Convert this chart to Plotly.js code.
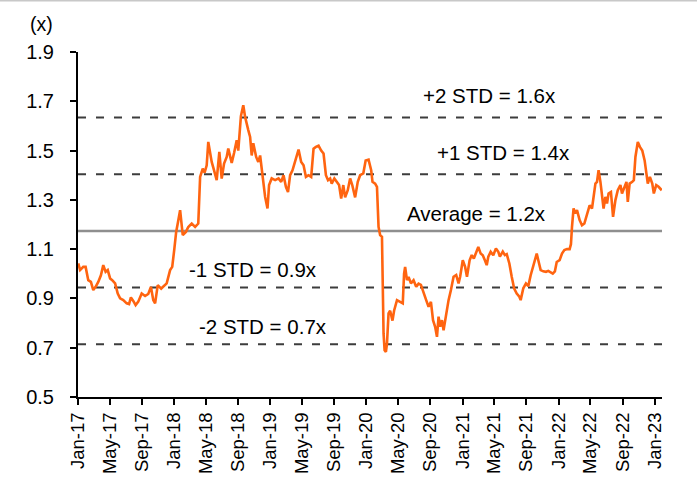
<!DOCTYPE html>
<html>
<head>
<meta charset="utf-8">
<script src="https://cdn.plot.ly/plotly-3.0.1.min.js"></script>
<style>
html,body{margin:0;padding:0;background:#fff;}
#chart{width:697px;height:481px;}
</style>
</head>
<body>
<div id="chart"></div>
<script>
// ---- data ----
const dates = [
"2017-01-02","2017-01-09","2017-01-21","2017-01-30","2017-02-09","2017-02-19","2017-02-28","2017-03-09","2017-03-19","2017-03-29",
"2017-04-07","2017-04-16","2017-04-24","2017-05-03","2017-05-11","2017-05-22","2017-06-01","2017-06-10","2017-06-22","2017-07-05",
"2017-07-14","2017-07-21","2017-07-30","2017-08-08","2017-08-18","2017-08-31","2017-09-13","2017-09-25","2017-10-05","2017-10-14",
"2017-10-21","2017-10-31","2017-11-13","2017-11-21","2017-12-04","2017-12-17","2017-12-25",
"2018-01-02","2018-01-09","2018-01-16","2018-01-24","2018-02-03","2018-02-15","2018-02-24","2018-03-09","2018-03-22","2018-04-03",
"2018-04-10","2018-04-20","2018-04-27","2018-05-05","2018-05-11","2018-05-18","2018-05-24","2018-06-02","2018-06-12","2018-06-22",
"2018-07-01","2018-07-10","2018-07-20","2018-07-26","2018-08-08","2018-08-17","2018-08-27","2018-09-02","2018-09-12","2018-09-21",
"2018-09-28","2018-10-10","2018-10-17","2018-10-23","2018-10-29","2018-11-09","2018-11-17","2018-11-24","2018-12-04","2018-12-13",
"2018-12-22","2018-12-28",
"2019-01-07","2019-01-20","2019-02-02","2019-02-12","2019-02-21","2019-03-02","2019-03-10","2019-03-18","2019-03-27","2019-04-06",
"2019-04-19","2019-04-29","2019-05-08","2019-05-17","2019-05-27","2019-06-06","2019-06-15","2019-06-24","2019-07-04","2019-07-14",
"2019-07-23","2019-08-01","2019-08-09","2019-08-17","2019-08-23","2019-09-02","2019-09-11","2019-09-20","2019-09-28","2019-10-06",
"2019-10-13","2019-10-23","2019-11-01","2019-11-09","2019-11-20","2019-11-30","2019-12-09","2019-12-21","2019-12-30",
"2020-01-10","2020-01-20","2020-01-25","2020-02-04","2020-02-11","2020-02-17","2020-02-23","2020-03-01","2020-03-03","2020-03-07",
"2020-03-11","2020-03-16","2020-03-20","2020-03-26","2020-04-01","2020-04-10","2020-04-16","2020-04-27","2020-05-09","2020-05-19",
"2020-05-24","2020-05-28","2020-06-04","2020-06-10","2020-06-19","2020-06-29","2020-07-09","2020-07-18","2020-07-27","2020-08-06",
"2020-08-16","2020-08-25","2020-09-03","2020-09-11","2020-09-19","2020-09-26","2020-10-02","2020-10-08","2020-10-15","2020-10-21",
"2020-10-31","2020-11-09","2020-11-18","2020-11-28","2020-12-08","2020-12-17","2020-12-23",
"2021-01-02","2021-01-11","2021-01-18","2021-01-28","2021-02-05","2021-02-13","2021-02-24","2021-03-02","2021-03-11","2021-03-19",
"2021-03-27","2021-04-03","2021-04-09","2021-04-18","2021-04-28","2021-05-08","2021-05-17","2021-05-23","2021-06-03","2021-06-11",
"2021-06-18","2021-06-28","2021-07-07","2021-07-16","2021-07-26","2021-08-05","2021-08-10","2021-08-20","2021-08-30","2021-09-08",
"2021-09-17","2021-09-27","2021-10-10","2021-10-16","2021-10-25","2021-11-04","2021-11-14","2021-11-23","2021-12-02","2021-12-10",
"2021-12-18","2021-12-25",
"2022-01-05","2022-01-14","2022-01-23","2022-02-02","2022-02-12","2022-02-17","2022-02-21","2022-02-27","2022-03-05","2022-03-12",
"2022-03-22","2022-03-31","2022-04-09","2022-04-19","2022-04-29","2022-05-08","2022-05-14","2022-05-21","2022-05-27","2022-06-02",
"2022-06-09","2022-06-15","2022-06-21","2022-06-28","2022-07-04","2022-07-10","2022-07-19","2022-07-27","2022-08-05","2022-08-14",
"2022-08-24","2022-08-30","2022-09-08","2022-09-16","2022-09-21","2022-09-28","2022-10-08","2022-10-14","2022-10-20","2022-10-29",
"2022-11-06","2022-11-15","2022-11-24","2022-12-01","2022-12-06","2022-12-14","2022-12-23","2022-12-29",
"2023-01-07","2023-01-16","2023-01-25","2023-01-28"
];
const multiples = [
1.042,1.015,1.028,1.028,0.974,0.967,0.934,0.947,0.967,0.994,
1.035,1.008,1.015,0.981,0.974,0.961,0.920,0.900,0.893,0.880,
0.877,0.904,0.890,0.873,0.887,0.920,0.910,0.918,0.947,0.893,
0.880,0.954,0.940,0.947,0.961,1.015,1.028,
1.100,1.170,1.210,1.258,1.157,1.170,1.190,1.204,1.190,1.204,
1.393,1.427,1.410,1.440,1.535,1.480,1.454,1.420,1.380,1.495,
1.386,1.447,1.474,1.508,1.450,1.490,1.542,1.500,1.640,1.684,
1.636,1.583,1.555,1.480,1.530,1.474,1.454,1.480,1.393,1.312,
1.265,1.360,
1.387,1.380,1.387,1.373,1.400,1.353,1.332,1.400,1.420,1.460,
1.504,1.454,1.440,1.393,1.400,1.393,1.508,1.515,1.520,1.500,
1.488,1.400,1.380,1.387,1.366,1.387,1.373,1.360,1.305,1.360,
1.310,1.339,1.387,1.360,1.310,1.373,1.400,1.407,1.460,
1.463,1.420,1.373,1.366,1.353,1.190,1.157,1.150,0.947,0.758,
0.690,0.683,0.717,0.839,0.850,0.810,0.850,0.893,0.886,0.880,
1.001,1.028,0.974,0.987,0.961,0.974,0.947,0.960,0.955,0.920,
0.893,0.866,0.886,0.812,0.785,0.744,0.826,0.785,0.812,0.771,
0.839,0.893,0.934,0.988,0.995,0.961,0.988,
1.055,1.028,0.988,1.055,1.076,1.062,1.089,1.109,1.082,1.075,
1.055,1.035,1.069,1.089,1.075,1.103,1.089,1.070,1.090,1.076,
1.080,1.042,0.988,0.941,0.920,0.907,0.893,0.941,0.961,0.950,
0.994,1.028,1.082,1.055,1.015,1.010,1.008,1.012,1.005,1.001,
1.010,1.048,
1.055,1.082,1.096,1.100,1.100,1.120,1.190,1.265,1.245,1.258,
1.218,1.197,1.204,1.238,1.278,1.265,1.312,1.366,1.373,1.420,
1.373,1.326,1.265,1.312,1.285,1.326,1.332,1.231,1.299,1.339,
1.360,1.326,1.353,1.373,1.292,1.366,1.373,1.380,1.474,1.535,
1.515,1.500,1.460,1.400,1.366,1.393,1.366,1.326,
1.360,1.353,1.339,1.339
];
const bandLevels = [1.634, 1.404, 1.174, 0.944, 0.714];
const bandLabels = ["+2 STD = 1.6x", "+1 STD = 1.4x", "Average = 1.2x", "-1 STD = 0.9x", "-2 STD = 0.7x"];
const bandLabelX = ["2021-04-13", "2021-06-07", "2021-02-25", "2018-10-27", "2018-12-06"];
const bandLabelY = [1.722, 1.494, 1.245, 1.018, 0.786];
const xRange = ["2017-01-01", "2023-01-29"];
const yRange = [0.5, 1.9];
const unitLabel = "(x)";

// ---- chart ----
const FONT = "Liberation Sans, Arial, sans-serif";
const shapes = bandLevels.map((v, i) => ({
  type: "line", xref: "paper", x0: 0, x1: 1, yref: "y", y0: v, y1: v,
  line: i === 2 ? {color: "#8f8f8f", width: 2.5} : {color: "#3c3c3c", width: 2, dash: "8px,10px"},
  layer: "below"
}));
// thin frame line across the top of the picture
shapes.push({type: "line", xref: "paper", yref: "paper", x0: -0.2, x1: 1.1, y0: 1.1485, y1: 1.1485,
  line: {color: "#c8c8c8", width: 1.5}});

const annotations = bandLabels.map((t, i) => ({
  text: t, x: bandLabelX[i], y: bandLabelY[i], xref: "x", yref: "y",
  showarrow: false, xanchor: "center", yanchor: "middle",
  font: {family: FONT, size: 20.5, color: "#000"}
}));
annotations.push({text: unitLabel, xref: "paper", yref: "paper", x: -0.063, y: 1.08,
  xanchor: "center", yanchor: "middle", showarrow: false, font: {family: FONT, size: 19.5, color: "#000"}});

const trace = {
  x: dates, y: multiples, type: "scatter", mode: "lines",
  line: {color: "#ff6410", width: 2.6, shape: "linear"},
  hoverinfo: "skip"
};

const layout = {
  width: 697, height: 481,
  margin: {l: 78, r: 35, t: 52, b: 84, pad: 0},
  paper_bgcolor: "#fff", plot_bgcolor: "#fff",
  showlegend: false,
  font: {family: FONT, size: 18.5, color: "#000"},
  xaxis: {
    type: "date", range: xRange, tick0: "2017-01-01", dtick: "M4", tickformat: "%b-%y",
    tickangle: -90, ticks: "outside", ticklen: 6, tickwidth: 2, tickcolor: "#000",
    showline: true, linecolor: "#000", linewidth: 2, showgrid: false, zeroline: false,
    tickfont: {family: FONT, size: 18.5, color: "#000"}
  },
  yaxis: {
    range: yRange, tick0: 0.5, dtick: 0.2, tickformat: ".1f",
    ticks: "outside", ticklen: 6, tickwidth: 2, tickcolor: "#000",
    showline: true, linecolor: "#000", linewidth: 2, showgrid: false, zeroline: false,
    ticklabelstandoff: 12,
    tickfont: {family: FONT, size: 20, color: "#000"}
  },
  shapes: shapes,
  annotations: annotations
};

Plotly.newPlot("chart", [trace], layout, {displayModeBar: false, staticPlot: true});
</script>
</body>
</html>
